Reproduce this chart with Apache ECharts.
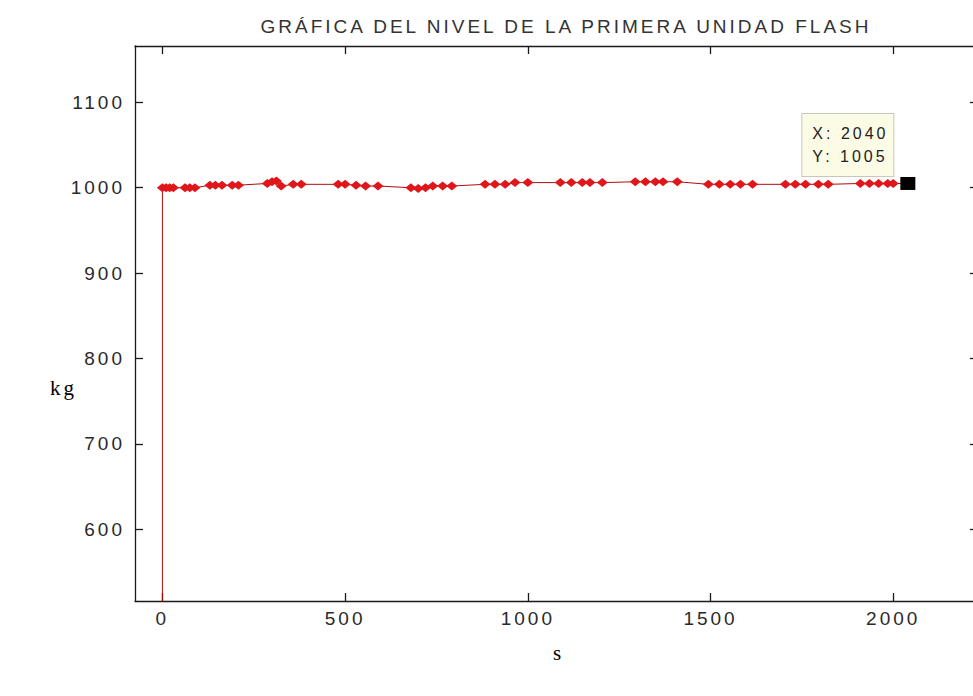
<!DOCTYPE html>
<html>
<head>
<meta charset="utf-8">
<title>Nivel de la primera unidad flash</title>
<script src="https://cdn.jsdelivr.net/npm/echarts@6/dist/echarts.min.js"></script>
<style>
  html, body { margin: 0; padding: 0; background: #ffffff; overflow: hidden; }
  /* the plot frame runs slightly past the right edge of the window */
  #chart { width: 990px; height: 696px; }
  /* wide, airy lettering for every label of the figure */
  #chart svg text { letter-spacing: 3px; }
</style>
</head>
<body>
<div id="chart"></div>
<script>
// Tiempo (s) y masa (kg) de la primera unidad flash
const tiempo = [
  0, 0, 10, 20, 30, 62, 75, 89, 130, 145, 163, 191, 208,
  287, 300, 312, 325, 358, 380, 481, 500, 530, 556, 590,
  680, 700, 720, 740, 767, 792, 883, 910, 938, 965, 1000,
  1089, 1119, 1149, 1170, 1204, 1294, 1322, 1349, 1370, 1409,
  1494, 1524, 1554, 1582, 1615, 1705, 1732, 1760, 1795, 1822,
  1910, 1935, 1960, 1985, 2000, 2040
];
const masa = [
  0, 1000, 1000, 1000, 1000, 1000, 1000, 1000, 1003, 1003, 1003, 1003, 1003,
  1005, 1007, 1008, 1002, 1004, 1004, 1004, 1004, 1003, 1002, 1002,
  1000, 999, 1000, 1002, 1002, 1002, 1004, 1004, 1004, 1006, 1006,
  1006, 1006, 1006, 1006, 1006, 1007, 1007, 1007, 1007, 1007,
  1004, 1004, 1004, 1004, 1004, 1004, 1004, 1004, 1004, 1004,
  1005, 1005, 1005, 1005, 1005, 1005
];
// Punto señalado con el cursor de datos
const puntoMarcado = [2040, 1005];

const ticksX = [0, 500, 1000, 1500, 2000];
const ticksY = [600, 700, 800, 900, 1000, 1100];

const titulo = 'GRÁFICA DEL NIVEL DE LA PRIMERA UNIDAD FLASH';
const etiquetaY = 'kg';
const etiquetaX = 's';

const serie = tiempo.map((t, i) => [t, masa[i]]);

const negro = '#1a1a1a';
const ejeLinea = { show: true, onZero: false, lineStyle: { color: negro, width: 1.3 } };
const marcaEje = (valores) => ({
  show: true, inside: true, length: 8, customValues: valores,
  lineStyle: { color: negro, width: 1.3 }
});
const fuenteTicks = {
  fontFamily: 'Liberation Sans, Arial, sans-serif', fontSize: 19, color: '#2a2a2a',
  formatter: (v) => String(v)
};

const chart = echarts.init(document.getElementById('chart'), null, { renderer: 'svg' });
chart.setOption({
  backgroundColor: '#ffffff',
  animation: false,
  title: {
    text: titulo,
    left: 561, top: 12, textAlign: 'center',
    textStyle: { fontFamily: 'Liberation Sans, Arial, sans-serif', fontSize: 19, fontWeight: 'normal', color: '#333' }
  },
  grid: { left: 135, top: 46, width: 843, height: 555 },
  xAxis: [
    {
      type: 'value', position: 'bottom', min: -75, max: 2232,
      axisLine: ejeLinea,
      axisTick: marcaEje(ticksX),
      axisLabel: Object.assign({ show: true, margin: 8, customValues: ticksX }, fuenteTicks),
      splitLine: { show: false }
    },
    {
      type: 'value', position: 'top', min: -75, max: 2232,
      axisLine: ejeLinea,
      axisTick: marcaEje(ticksX),
      axisLabel: { show: false },
      splitLine: { show: false }
    }
  ],
  yAxis: [
    {
      type: 'value', position: 'left', min: 516, max: 1166,
      axisLine: ejeLinea,
      axisTick: marcaEje(ticksY),
      axisLabel: Object.assign({ show: true, margin: 10, customValues: ticksY }, fuenteTicks),
      splitLine: { show: false }
    },
    {
      type: 'value', position: 'right', min: 516, max: 1166,
      axisLine: ejeLinea,
      axisTick: marcaEje(ticksY),
      axisLabel: { show: false },
      splitLine: { show: false }
    }
  ],
  series: [
    {
      type: 'line',
      data: serie,
      xAxisIndex: 0, yAxisIndex: 0,
      clip: true,
      lineStyle: { color: '#b00c0c', width: 1 },
      symbol: 'diamond',
      symbolSize: [11, 9],
      itemStyle: { color: '#e0161b' },
      z: 2
    },
    {
      type: 'scatter',
      data: [puntoMarcado],
      xAxisIndex: 0, yAxisIndex: 0,
      symbol: 'rect',
      symbolSize: [15, 13],
      itemStyle: { color: '#000000', opacity: 1 },
      label: {
        show: true,
        position: [-98, -63],
        formatter: () => 'X: ' + puntoMarcado[0] + '\nY: ' + puntoMarcado[1],
        fontFamily: 'Liberation Sans, Arial, sans-serif',
        fontSize: 16,
        lineHeight: 23,
        color: '#222',
        width: 73,
        backgroundColor: '#fbfbe6',
        borderColor: '#c8c8b8',
        borderWidth: 1,
        padding: [8, 8, 8, 10],
        align: 'left',
        verticalAlign: 'top'
      },
      z: 5
    }
  ],
  graphic: [
    {
      type: 'text', left: 50, top: 377,
      style: { text: etiquetaY, fontFamily: 'Liberation Serif, Times New Roman, serif', fontSize: 21, fill: '#000' }
    },
    {
      type: 'text', left: 553, top: 642,
      style: { text: etiquetaX, fontFamily: 'Liberation Serif, Times New Roman, serif', fontSize: 21, fill: '#000' }
    }
  ]
});
</script>
</body>
</html>
